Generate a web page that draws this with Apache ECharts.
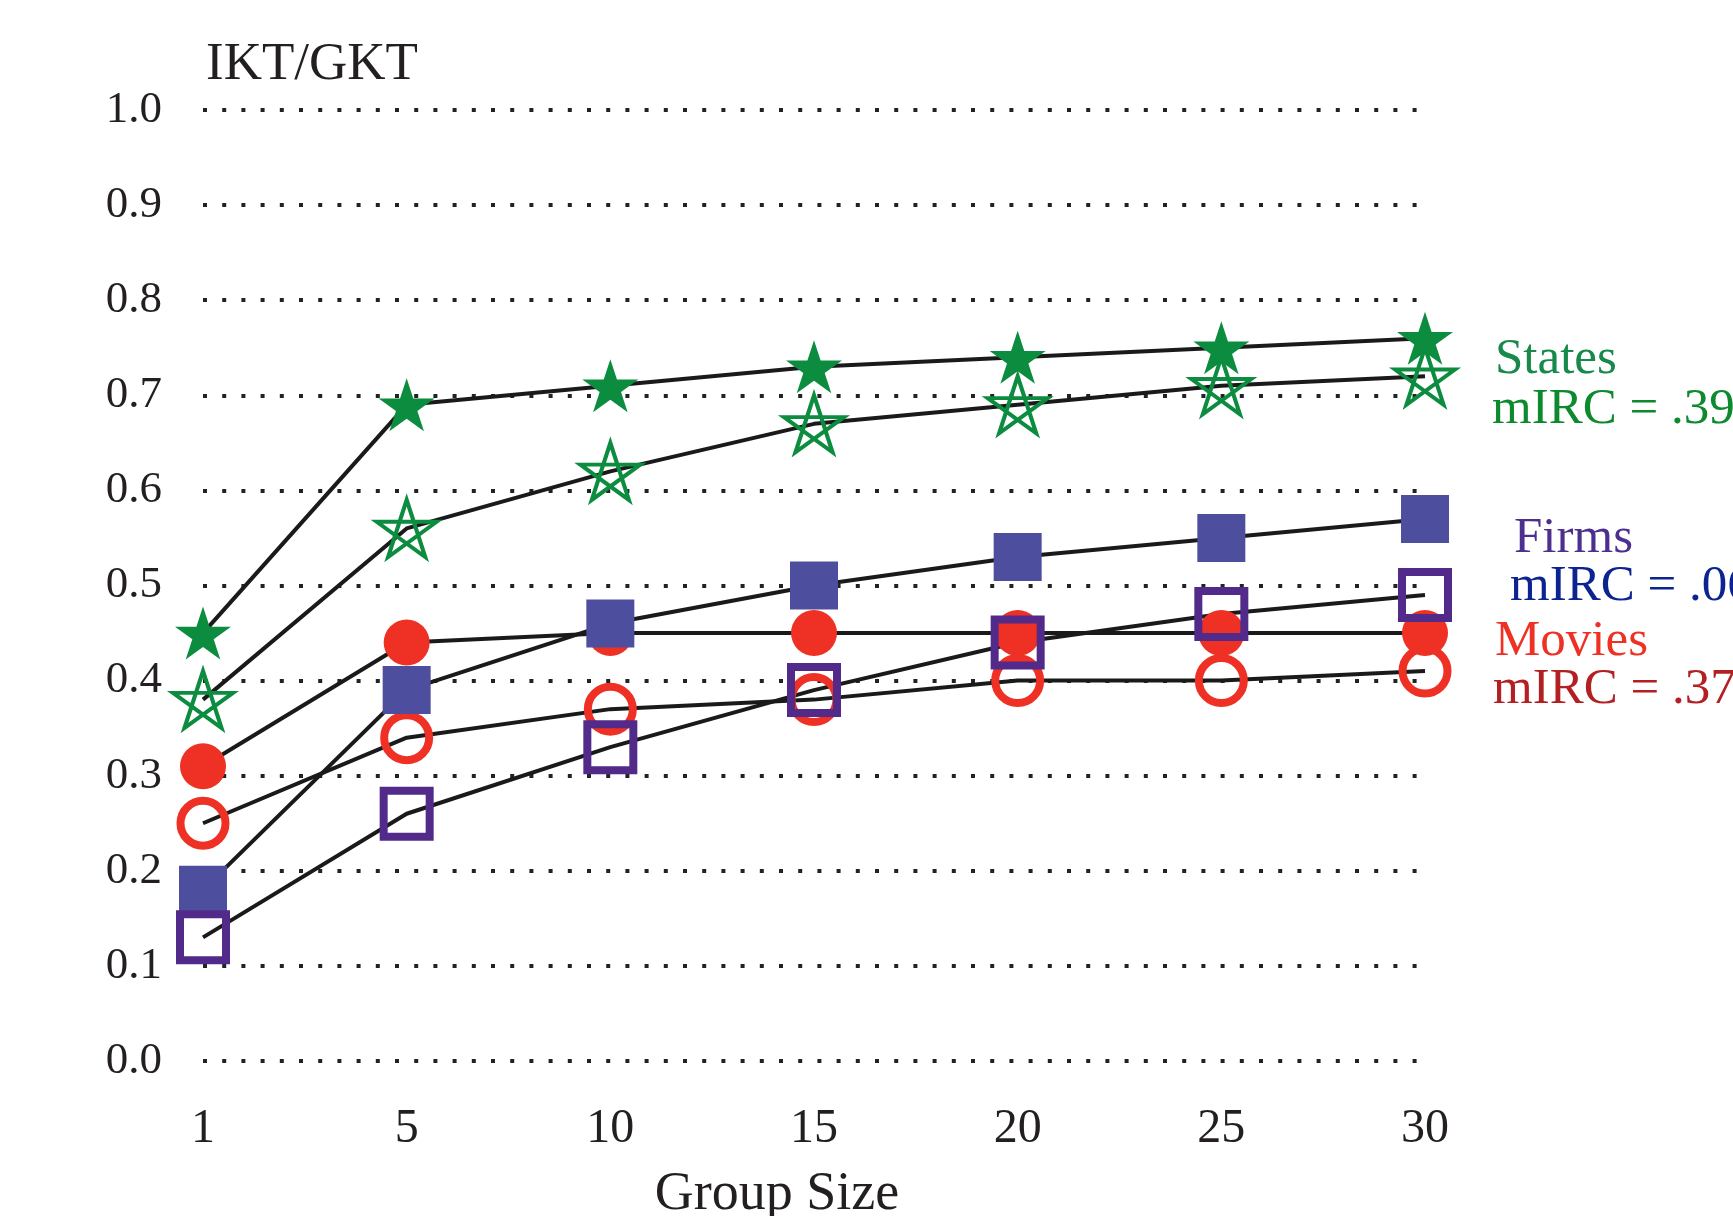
<!DOCTYPE html>
<html>
<head>
<meta charset="utf-8">
<script src="https://cdn.jsdelivr.net/npm/echarts@6/dist/echarts.min.js"></script>
<style>
html,body{margin:0;padding:0;background:#fff;}
#main{width:1733px;height:1216px;}
</style>
</head>
<body>
<div id="main"></div>
<script>
var groupSizes = ['1', '5', '10', '15', '20', '25', '30'];
var yTicks = [0, 0.1, 0.2, 0.3, 0.4, 0.5, 0.6, 0.7, 0.8, 0.9, 1.0];

// States
var statesFilled = [0.45, 0.69, 0.71, 0.73, 0.74, 0.75, 0.76];
var statesOpen = [0.38, 0.56, 0.62, 0.67, 0.69, 0.71, 0.72];
// Movies
var moviesFilled = [0.31, 0.44, 0.45, 0.45, 0.45, 0.45, 0.45];
var moviesOpen = [0.25, 0.34, 0.37, 0.38, 0.40, 0.40, 0.41];
// Firms
var firmsFilled = [0.18, 0.39, 0.46, 0.50, 0.53, 0.55, 0.57];
var firmsOpen = [0.13, 0.26, 0.33, 0.39, 0.44, 0.47, 0.49];

var serif = '"Liberation Serif", "DejaVu Serif", serif';
var green = '#0b8c3f', red = '#ee3124', slate = '#4e4e9e', purple = '#522a8a';

var starPath = 'path://M0,-100L22.5,-30.9L95.1,-30.9L36.3,11.8L58.8,80.9L0,38.2L-58.8,80.9L-36.3,11.8L-95.1,-30.9L-22.5,-30.9Z';
var pentagram = 'path://M0,-100L58.8,80.9L-95.1,-30.9L95.1,-30.9L-58.8,80.9Z';

function mkSeries(name, data, symbol, size, fill, border, bw) {
    return {
        name: name,
        type: 'line',
        data: data,
        symbol: symbol,
        symbolSize: size,
        showSymbol: true,
        lineStyle: {color: '#1a1a1a', width: 4},
        itemStyle: {color: fill, borderColor: border, borderWidth: bw},
        emphasis: {disabled: true}
    };
}

var option = {
    backgroundColor: '#fff',
    animation: false,
    grid: {left: 203, right: 308, top: 110, bottom: 155},
    xAxis: {
        type: 'category',
        data: groupSizes,
        boundaryGap: false,
        axisLine: {show: false},
        axisTick: {show: false},
        splitLine: {show: false},
        axisLabel: {margin: 44, fontFamily: serif, fontSize: 48, color: '#231f20'}
    },
    yAxis: {
        type: 'value',
        min: 0,
        max: 1,
        interval: 0.1,
        axisLine: {show: false},
        axisTick: {show: false},
        axisLabel: {
            margin: 41, fontFamily: serif, fontSize: 45, color: '#231f20',
            formatter: function (v) { return v.toFixed(1); }
        },
        splitLine: {show: true, lineStyle: {color: '#222', width: 4, type: [4, 15.2], cap: 'butt'}}
    },
    series: [
        mkSeries('Movies filled', moviesFilled, 'circle', 46, red, red, 0),
        mkSeries('Movies open', moviesOpen, 'circle', 45, 'rgba(0,0,0,0)', red, 8),
        mkSeries('Firms filled', firmsFilled, 'rect', 48, slate, slate, 0),
        mkSeries('Firms open', firmsOpen, 'rect', 46, 'rgba(0,0,0,0)', purple, 8),
        mkSeries('States open', statesOpen, pentagram, [60, 57], 'rgba(0,0,0,0)', green, 4),
        mkSeries('States filled', statesFilled, starPath, [56, 53], green, green, 0)
    ],
    graphic: [
        {type: 'text', style: {text: 'IKT/GKT', x: 206, y: 65, font: '53px ' + serif, fill: '#231f20', verticalAlign: 'middle'}},
        {type: 'text', style: {text: 'Group Size', x: 777, y: 1195, font: '54px ' + serif, fill: '#231f20', align: 'center', verticalAlign: 'middle'}},
        {type: 'text', style: {text: 'States', x: 1495, y: 360, font: '51px ' + serif, fill: '#17894a', verticalAlign: 'middle'}},
        {type: 'text', style: {text: 'mIRC = .39', x: 1492, y: 410, font: '51px ' + serif, fill: '#0d8a2e', verticalAlign: 'middle'}},
        {type: 'text', style: {text: 'Firms', x: 1514, y: 539, font: '51px ' + serif, fill: '#4d2f8f', verticalAlign: 'middle'}},
        {type: 'text', style: {text: 'mIRC = .06', x: 1510, y: 587, font: '51px ' + serif, fill: '#0c2490', verticalAlign: 'middle'}},
        {type: 'text', style: {text: 'Movies', x: 1495, y: 642, font: '51px ' + serif, fill: '#ee3124', verticalAlign: 'middle'}},
        {type: 'text', style: {text: 'mIRC = .37', x: 1493, y: 690, font: '51px ' + serif, fill: '#b32024', verticalAlign: 'middle'}}
    ]
};

var chart = echarts.init(document.getElementById('main'));
chart.setOption(option);
</script>
</body>
</html>
